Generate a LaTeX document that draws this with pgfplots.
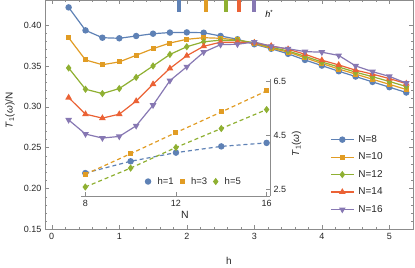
\documentclass[border=0pt]{standalone}
\usepackage{fontspec}
\setmainfont{Liberation Sans}
\usepackage{pgfplots}
\usepackage{pgfplotstable}
\pgfplotsset{compat=1.18}
\definecolor{c1}{RGB}{94,129,181}
\definecolor{c2}{RGB}{225,156,36}
\definecolor{c3}{RGB}{143,176,50}
\definecolor{c4}{RGB}{235,98,53}
\definecolor{c5}{RGB}{135,120,179}
\definecolor{frm}{RGB}{140,140,140}

\pgfplotstableread{
h     n8     n10    n12    n14    n16
0.25  0.4216 0.3845 0.3475 0.3113 0.2840
0.50  0.3935 0.3573 0.3215 0.2910 0.2667
0.75  0.3845 0.3515 0.3162 0.2862 0.2618
1.00  0.3838 0.3549 0.3223 0.2910 0.2638
1.25  0.3866 0.3630 0.3360 0.3070 0.2768
1.50  0.3894 0.3711 0.3500 0.3277 0.3020
1.75  0.3908 0.3780 0.3640 0.3470 0.3320
2.00  0.3910 0.3826 0.3735 0.3625 0.3490
2.25  0.3906 0.3845 0.3795 0.3740 0.3668
2.50  0.3866 0.3838 0.3815 0.3790 0.3760
2.75  0.3826 0.3817 0.3815 0.3790 0.3765
3.00  0.3765 0.3775 0.3784 0.3784 0.3793
3.25  0.3710 0.3716 0.3728 0.3745 0.3740
3.50  0.3648 0.3670 0.3683 0.3704 0.3710
3.75  0.3573 0.3600 0.3618 0.3643 0.3675
4.00  0.3504 0.3530 0.3548 0.3570 0.3668
4.25  0.3435 0.3462 0.3487 0.3512 0.3628
4.50  0.3370 0.3400 0.3424 0.3448 0.3500
4.75  0.3305 0.3337 0.3368 0.3400 0.3430
5.00  0.3240 0.3275 0.3310 0.3345 0.3372
5.25  0.3175 0.3212 0.3248 0.3284 0.3290
}\maintable

\pgfplotstableread{
N   h1    h3    h5
8   3.115 3.07  2.60
10  3.55  3.83  3.30
12  3.87  4.61  4.06
14  4.10  5.37  4.76
16  4.23  6.15  5.46
}\insettable

\begin{document}
\begin{tikzpicture}[font=\fontsize{9}{11}\selectfont]
\begin{axis}[
  at={(0pt,0pt)}, anchor=south west,
  scale only axis, width=368pt, height=229pt,
  xmin=-0.1, xmax=5.35, ymin=0.15, ymax=0.43,
  xtick={0,1,2,3,4,5}, minor x tick num=4,
  ytick={0.15,0.20,0.25,0.30,0.35,0.40}, minor y tick num=4,
  yticklabel style={/pgf/number format/.cd, fixed, fixed zerofill, precision=2},
  /pgf/number format/assume math mode=true,
  tick align=inside,
  major tick length=4pt, minor tick length=2pt,
  axis line style={frm}, every tick/.style={frm, line width=0.5pt},
  tick label style={text=black!85, font=\fontsize{9}{11}\selectfont},
  xlabel={h}, ylabel={\textit{T}\textsubscript{1}(\textit{ω})/N},
  every axis x label/.style={at={(axis description cs:0.5,-0.135)}, anchor=center, font=\fontsize{10}{12}\selectfont, text=black!85},
  every axis y label/.style={at={(axis description cs:-0.095,0.52)}, anchor=center, rotate=90, font=\fontsize{10}{12}\selectfont, text=black!85},
  legend style={at={(0.7745,0.4118)}, anchor=north west, draw=none, fill=none, inner sep=0pt, row sep=9pt,
    nodes={inner sep=0pt, font=\fontsize{10}{12}\selectfont, text=black!85},
    /tikz/every odd column/.append style={column sep=4pt}},
  legend cell align=left,
  legend image code/.code={\draw[mark repeat=2,mark phase=2,#1] plot coordinates {(0pt,0pt) (11.5pt,0pt) (23pt,0pt)};},
  every axis plot/.append style={line width=1.2pt, mark options={solid}},
]
\addplot[c1, line width=4pt, forget plot] coordinates {(1.89,0.44) (1.89,0.4155)};
\addplot[c2, line width=4pt, forget plot] coordinates {(2.28,0.44) (2.28,0.4155)};
\addplot[c3, line width=4pt, forget plot] coordinates {(2.58,0.44) (2.58,0.4155)};
\addplot[c4, line width=4pt, forget plot] coordinates {(2.77,0.44) (2.77,0.4155)};
\addplot[c5, line width=4pt, forget plot] coordinates {(3.00,0.44) (3.00,0.4155)};
\node at (axis cs:3.22,0.4135) {\textit{h}\textsuperscript{*}};

\addplot[c1, mark=*, mark size=2.6pt] table[x=h, y=n8] {\maintable};
\addlegendentry{N=8}
\addplot[c2, mark=square*, mark size=1.9pt] table[x=h, y=n10] {\maintable};
\addlegendentry{N=10}
\addplot[c3, mark=diamond*, mark size=2.7pt] table[x=h, y=n12] {\maintable};
\addlegendentry{N=12}
\addplot[c4, mark=triangle*, mark size=2.7pt] table[x=h, y=n14] {\maintable};
\addlegendentry{N=14}
\addplot[c5, mark=triangle*, mark options={rotate=180}, mark size=2.7pt] table[x=h, y=n16] {\maintable};
\addlegendentry{N=16}
\end{axis}

\begin{axis}[
  at={(36pt,33pt)}, anchor=south west,
  scale only axis, width=189pt, height=117pt,
  xmin=7.81, xmax=16.15, ymin=2.25, ymax=6.57,
  axis x line*=bottom, axis y line*=right,
  axis line style={-, frm},
  xtick={8,12,16}, ytick={2.5,4.5,6.5},
  yticklabel style={/pgf/number format/.cd, fixed, fixed zerofill, precision=1},
  /pgf/number format/assume math mode=true,
  tick align=inside, major tick length=4pt,
  every tick/.style={frm, line width=0.5pt},
  tick label style={text=black!85, font=\fontsize{9}{11}\selectfont},
  xlabel={N}, ylabel={\textit{T}\textsubscript{1}(\textit{ω})},
  every axis x label/.style={at={(axis description cs:0.55,-0.155)}, anchor=center, font=\fontsize{10.5}{12}\selectfont, text=black!85},
  every axis y label/.style={at={(axis description cs:1.14,0.45)}, anchor=center, rotate=90, font=\fontsize{10}{12}\selectfont, text=black!85},
  legend columns=3,
  legend style={at={(0.34,0.128)}, anchor=west, draw=none, fill=none, inner sep=0pt,
    nodes={inner sep=0pt, font=\fontsize{9.5}{11}\selectfont, text=black!85},
    /tikz/every odd column/.append style={column sep=7pt},
    /tikz/every even column/.append style={column sep=6.5pt}},
  legend image code/.code={\draw[#1] plot coordinates {(0pt,0pt)};},
  every axis plot/.append style={line width=1.2pt, mark options={solid}},
]
\addplot[c1, dashed, dash pattern=on 4pt off 3pt, mark=*, mark size=2.6pt, forget plot] table[x=N, y=h1] {\insettable};
\addplot[c2, dashed, dash pattern=on 4pt off 3pt, mark=square*, mark size=1.9pt, forget plot] table[x=N, y=h3] {\insettable};
\addplot[c3, dashed, dash pattern=on 4pt off 3pt, mark=diamond*, mark size=2.7pt, forget plot] table[x=N, y=h5] {\insettable};
\addlegendimage{only marks, c1, mark=*, mark size=2.6pt}
\addlegendentry{h=1}
\addlegendimage{only marks, c2, mark=square*, mark size=1.9pt}
\addlegendentry{h=3}
\addlegendimage{only marks, c3, mark=diamond*, mark size=2.7pt}
\addlegendentry{h=5}
\end{axis}
\pgfresetboundingbox
\path (-45pt,-38pt) rectangle (370pt,229.5pt);
\end{tikzpicture}
\end{document}
